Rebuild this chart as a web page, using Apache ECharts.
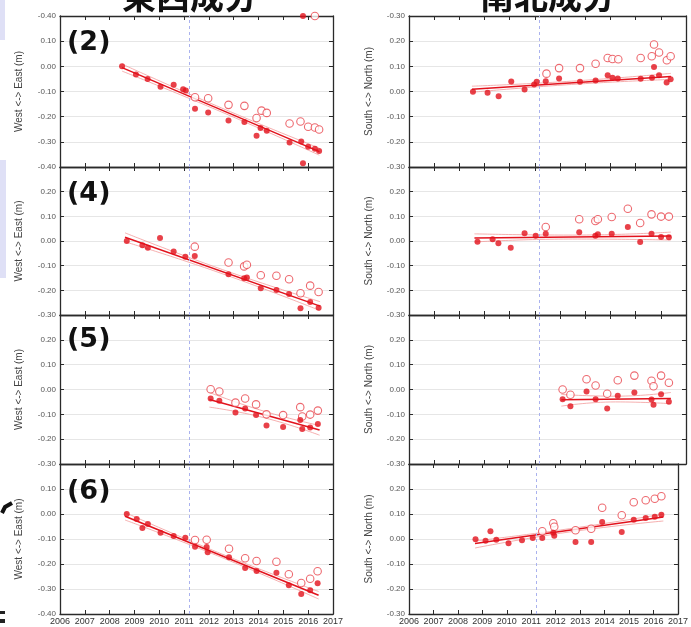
<!DOCTYPE html>
<html><head><meta charset="utf-8">
<script src="https://cdn.jsdelivr.net/npm/echarts@6/dist/echarts.min.js"></script>
<style>html,body{margin:0;padding:0;background:#fff;}#c{width:691px;height:627px;}</style>
</head><body><div id="c"></div>
<script>
// ---------- data ----------
const xMin = 2006, xMax = 2017;
const quakeYear = 2011.19;
const columnTitles = ['東西成分', '南北成分'];
const panelLabels = ['(2)', '(4)', '(5)', '(6)'];
const ewName = 'West <-> East (m)';
const nsName = 'South <-> North (m)';
const ewRanges = [[-0.4, 0.2], [-0.3, 0.3], [-0.3, 0.3], [-0.4, 0.2]];
const nsRanges = [[-0.3, 0.3], [-0.3, 0.3], [-0.3, 0.3], [-0.3, 0.3]];
const topLabelEW = '-0.40';
const topLabelNS = '-0.30';

// (2) East-West
const p2ewFilled = [[2008.5,0.0],[2009.06,-0.032],[2009.53,-0.05],[2010.05,-0.081],[2010.58,-0.073],[2010.96,-0.091],[2011.07,-0.096],[2011.44,-0.169],[2011.97,-0.183],[2012.79,-0.215],[2013.43,-0.221],[2013.92,-0.276],[2014.08,-0.245],[2014.33,-0.256],[2015.25,-0.303],[2015.72,-0.299],[2015.79,-0.385],[2016.0,-0.32],[2016.27,-0.327],[2016.44,-0.336],[2015.79,0.2]];
const p2ewOpen = [[2011.44,-0.123],[2011.97,-0.127],[2012.79,-0.153],[2013.43,-0.157],[2013.92,-0.205],[2014.12,-0.176],[2014.33,-0.185],[2015.25,-0.227],[2015.69,-0.219],[2016.0,-0.24],[2016.27,-0.243],[2016.44,-0.251],[2016.27,0.2]];
const p2ewFit = [[2008.5,-0.005],[2016.45,-0.339]];
const p2ewUpper = [[2008.5,0.009],[2012.5,-0.165],[2016.45,-0.325]];
const p2ewLower = [[2008.5,-0.019],[2012.5,-0.181],[2016.45,-0.353]];
// (2) North-South
const p2nsFilled = [[2008.54,-0.001],[2009.12,-0.005],[2009.56,-0.019],[2010.06,0.04],[2010.59,0.008],[2010.97,0.028],[2011.07,0.039],[2011.43,0.041],[2011.96,0.052],[2012.79,0.039],[2013.41,0.044],[2013.89,0.065],[2014.08,0.055],[2014.29,0.052],[2015.2,0.051],[2015.65,0.055],[2015.73,0.097],[2015.93,0.065],[2016.23,0.036],[2016.39,0.049]];
const p2nsOpen = [[2011.46,0.071],[2011.96,0.093],[2012.79,0.093],[2013.41,0.11],[2013.89,0.133],[2014.08,0.129],[2014.31,0.128],[2015.2,0.133],[2015.64,0.14],[2015.73,0.187],[2015.93,0.155],[2016.24,0.124],[2016.39,0.14]];
const p2nsFit = [[2008.5,0.009],[2016.4,0.06]];
const p2nsUpper = [[2008.5,0.021],[2012.45,0.041],[2016.4,0.072]];
const p2nsLower = [[2008.5,-0.003],[2012.45,0.028],[2016.4,0.048]];
// (4) East-West
const p4ewFilled = [[2008.69,0.0],[2009.32,-0.017],[2009.54,-0.027],[2010.03,0.012],[2010.58,-0.043],[2011.05,-0.064],[2011.43,-0.061],[2012.79,-0.135],[2013.42,-0.151],[2013.53,-0.148],[2014.09,-0.192],[2014.72,-0.199],[2015.23,-0.215],[2015.69,-0.273],[2016.08,-0.247],[2016.42,-0.271]];
const p4ewOpen = [[2011.43,-0.023],[2012.79,-0.087],[2013.42,-0.103],[2013.53,-0.096],[2014.09,-0.139],[2014.72,-0.141],[2015.23,-0.155],[2015.69,-0.212],[2016.08,-0.181],[2016.42,-0.207]];
const p4ewFit = [[2008.62,0.015],[2016.48,-0.264]];
const p4ewUpper = [[2008.62,0.033],[2012.55,-0.116],[2016.48,-0.246]];
const p4ewLower = [[2008.62,-0.003],[2012.55,-0.133],[2016.48,-0.282]];
// (4) North-South
const p4nsFilled = [[2008.72,-0.003],[2009.32,0.007],[2009.55,-0.009],[2010.04,-0.027],[2010.59,0.031],[2011.03,0.021],[2011.43,0.029],[2012.76,0.035],[2013.4,0.021],[2013.5,0.027],[2014.05,0.029],[2014.69,0.057],[2015.18,-0.004],[2015.63,0.029],[2016.01,0.016],[2016.32,0.015]];
const p4nsOpen = [[2011.43,0.057],[2012.76,0.088],[2013.4,0.081],[2013.5,0.088],[2014.05,0.097],[2014.69,0.131],[2015.18,0.073],[2015.63,0.108],[2016.01,0.099],[2016.32,0.099]];
const p4nsFit = [[2008.6,0.012],[2016.4,0.02]];
const p4nsUpper = [[2008.6,0.029],[2012.5,0.024],[2016.4,0.036]];
const p4nsLower = [[2008.6,-0.004],[2012.5,0.008],[2016.4,0.004]];
// (5) East-West
const p5ewFilled = [[2012.07,-0.036],[2012.42,-0.045],[2013.07,-0.093],[2013.46,-0.077],[2013.9,-0.103],[2014.32,-0.145],[2014.99,-0.151],[2015.68,-0.123],[2015.76,-0.159],[2016.08,-0.153],[2016.39,-0.139]];
const p5ewOpen = [[2012.07,0.001],[2012.42,-0.008],[2013.07,-0.053],[2013.46,-0.036],[2013.9,-0.06],[2014.32,-0.1],[2014.99,-0.103],[2015.68,-0.071],[2015.76,-0.109],[2016.08,-0.101],[2016.39,-0.085]];
const p5ewFit = [[2012.02,-0.04],[2016.46,-0.163]];
const p5ewUpper = [[2012.02,-0.012],[2014.24,-0.088],[2016.46,-0.145]];
const p5ewLower = [[2012.02,-0.071],[2014.24,-0.114],[2016.46,-0.184]];
// (5) North-South
const p5nsFilled = [[2012.1,-0.039],[2012.41,-0.067],[2013.05,-0.008],[2013.41,-0.039],[2013.87,-0.077],[2014.29,-0.025],[2014.95,-0.012],[2015.63,-0.04],[2015.71,-0.061],[2016.01,-0.019],[2016.32,-0.049]];
const p5nsOpen = [[2012.1,0.0],[2012.41,-0.021],[2013.05,0.041],[2013.41,0.016],[2013.87,-0.017],[2014.29,0.037],[2014.95,0.056],[2015.63,0.035],[2015.71,0.013],[2016.01,0.056],[2016.32,0.027]];
const p5nsFit = [[2012.05,-0.041],[2016.4,-0.036]];
const p5nsUpper = [[2012.05,-0.02],[2014.2,-0.027],[2016.4,-0.012]];
const p5nsLower = [[2012.05,-0.067],[2014.2,-0.05],[2016.4,-0.057]];
// (6) East-West
const p6ewFilled = [[2008.69,0.0],[2009.09,-0.02],[2009.32,-0.056],[2009.54,-0.04],[2010.05,-0.075],[2010.58,-0.088],[2011.05,-0.095],[2011.44,-0.131],[2011.91,-0.132],[2011.95,-0.153],[2012.81,-0.173],[2013.46,-0.216],[2013.92,-0.228],[2014.72,-0.235],[2015.22,-0.285],[2015.72,-0.32],[2016.08,-0.305],[2016.38,-0.277]];
const p6ewOpen = [[2011.44,-0.104],[2011.91,-0.103],[2012.81,-0.139],[2013.46,-0.177],[2013.92,-0.188],[2014.72,-0.191],[2015.22,-0.241],[2015.72,-0.276],[2016.08,-0.259],[2016.38,-0.229]];
const p6ewFit = [[2008.62,-0.009],[2016.42,-0.325]];
const p6ewUpper = [[2008.62,0.006],[2012.52,-0.16],[2016.42,-0.31]];
const p6ewLower = [[2008.62,-0.024],[2012.52,-0.174],[2016.42,-0.34]];
// (6) North-South
const p6nsFilled = [[2008.72,-0.001],[2009.13,-0.007],[2009.33,0.031],[2009.57,-0.003],[2010.07,-0.017],[2010.62,-0.005],[2011.06,0.004],[2011.45,0.004],[2011.9,0.025],[2011.94,0.013],[2012.81,-0.012],[2013.45,-0.012],[2013.9,0.068],[2014.7,0.028],[2015.19,0.077],[2015.68,0.084],[2016.05,0.089],[2016.32,0.097]];
const p6nsOpen = [[2011.45,0.031],[2011.9,0.063],[2011.94,0.049],[2012.81,0.035],[2013.45,0.041],[2013.9,0.125],[2014.7,0.095],[2015.19,0.147],[2015.68,0.155],[2016.05,0.161],[2016.32,0.171]];
const p6nsFit = [[2008.7,-0.018],[2016.4,0.088]];
const p6nsUpper = [[2008.7,-0.008],[2012.55,0.041],[2016.4,0.1]];
const p6nsLower = [[2008.7,-0.036],[2012.55,0.028],[2016.4,0.072]];

// ---------- layout ----------
const colLeft = [60, 409], colWidth = [273, 277];
const rowTop = [16, 167, 315, 464], rowHeight = [151, 148, 149, 150];
const RED = '#e2121c', RED_OPEN = '#e8434b', BAND = '#f39a9a', QUAKE = '#aab2ee';

const panels = [
  [p2ewFilled, p2ewOpen, p2ewFit, p2ewUpper, p2ewLower],
  [p2nsFilled, p2nsOpen, p2nsFit, p2nsUpper, p2nsLower],
  [p4ewFilled, p4ewOpen, p4ewFit, p4ewUpper, p4ewLower],
  [p4nsFilled, p4nsOpen, p4nsFit, p4nsUpper, p4nsLower],
  [p5ewFilled, p5ewOpen, p5ewFit, p5ewUpper, p5ewLower],
  [p5nsFilled, p5nsOpen, p5nsFit, p5nsUpper, p5nsLower],
  [p6ewFilled, p6ewOpen, p6ewFit, p6ewUpper, p6ewLower],
  [p6nsFilled, p6nsOpen, p6nsFit, p6nsUpper, p6nsLower]
];

function fmt(v){ return Math.abs(v) < 1e-9 ? '0.00' : v.toFixed(2); }

const grid = [], xAxis = [], yAxis = [], series = [];
const axisLineStyle = { show: true, onZero: false, lineStyle: { color: '#2a2a2a', width: 1.3 } };
const tickStyle = { show: true, inside: true, length: 4, lineStyle: { color: '#2a2a2a' } };

panels.forEach((p, i) => {
  const row = Math.floor(i / 2), col = i % 2;
  const range = col === 0 ? ewRanges[row] : nsRanges[row];
  grid.push({ left: colLeft[col], top: rowTop[row], width: colWidth[col], height: rowHeight[row] });
  const isBottom = row === 3;
  xAxis.push({
    gridIndex: i, type: 'value', min: xMin, max: xMax, interval: 1, position: 'bottom',
    axisLine: axisLineStyle, axisTick: tickStyle, splitLine: { show: false },
    axisLabel: { show: isBottom, formatter: v => String(v), fontSize: 9, color: '#333', margin: 3, fontFamily: 'Liberation Sans', showMinLabel: true, showMaxLabel: true }
  });
  xAxis.push({
    gridIndex: i, type: 'value', min: xMin, max: xMax, interval: 1, position: 'top',
    axisLine: axisLineStyle, axisTick: tickStyle, splitLine: { show: false }, axisLabel: { show: false }
  });
  const topText = col === 0 ? topLabelEW : topLabelNS;
  yAxis.push({
    gridIndex: i, type: 'value', min: range[0], max: range[1], interval: 0.1, position: 'left',
    name: col === 0 ? ewName : nsName, nameLocation: 'middle', nameGap: col === 0 ? 36 : 35,
    nameTextStyle: { fontSize: 10, color: '#444', fontFamily: 'Liberation Sans' },
    axisLine: axisLineStyle, axisTick: tickStyle,
    splitLine: { show: true, lineStyle: { color: '#e6e6e6', width: 1 } },
    axisLabel: {
      fontSize: 8, color: '#555', margin: 4, fontFamily: 'Liberation Sans', hideOverlap: false,
      showMaxLabel: row === 0, showMinLabel: true,
      formatter: v => (row === 0 && Math.abs(v - range[1]) < 1e-9) ? topText : fmt(v)
    }
  });
  yAxis.push({
    gridIndex: i, type: 'value', min: range[0], max: range[1], interval: 0.1, position: 'right',
    axisLine: axisLineStyle, axisTick: tickStyle, splitLine: { show: false }, axisLabel: { show: false }
  });
  const xi = 2 * i, yi = 2 * i;
  const lineBase = { type: 'line', xAxisIndex: xi, yAxisIndex: yi, symbol: 'none', silent: true, animation: false };
  series.push(Object.assign({}, lineBase, { data: p[3], smooth: true, lineStyle: { color: BAND, width: 0.8 }, z: 2 }));
  series.push(Object.assign({}, lineBase, { data: p[4], smooth: true, lineStyle: { color: BAND, width: 0.8 }, z: 2 }));
  series.push(Object.assign({}, lineBase, { data: p[2], lineStyle: { color: RED, width: 1.5 }, z: 3,
    markLine: { silent: true, symbol: 'none', label: { show: false },
      lineStyle: { color: QUAKE, type: [3, 3], width: 1 }, data: [{ xAxis: quakeYear }] } }));
  series.push({ type: 'scatter', xAxisIndex: xi, yAxisIndex: yi, data: p[1], symbol: 'circle', symbolSize: 7.5,
    itemStyle: { color: '#fff', borderColor: RED_OPEN, borderWidth: 1.1 }, z: 4, animation: false });
  series.push({ type: 'scatter', xAxisIndex: xi, yAxisIndex: yi, data: p[0], symbol: 'circle', symbolSize: 6,
    itemStyle: { color: RED }, z: 5, animation: false });
});

const graphic = [
  { type: 'rect', shape: { x: 0, y: 0, width: 5, height: 40 }, style: { fill: '#dfe0f6' }, z: 0 },
  { type: 'rect', shape: { x: 0, y: 160, width: 6, height: 118 }, style: { fill: '#dfe0f6' }, z: 0 },
  { type: 'text', x: 190, y: -21, style: { text: columnTitles[0], font: 'bold 34px "Noto Sans CJK JP"', fill: '#111', textAlign: 'center', textVerticalAlign: 'top' }, z: 10 },
  { type: 'text', x: 548, y: -21, style: { text: columnTitles[1], font: 'bold 34px "Noto Sans CJK JP"', fill: '#111', textAlign: 'center', textVerticalAlign: 'top' }, z: 10 },
  { type: 'polyline', shape: { points: [[12, 503], [5, 507], [2, 513]] }, style: { stroke: '#111', lineWidth: 4, fill: null }, z: 10 },
  { type: 'rect', shape: { x: 0, y: 611, width: 5, height: 3 }, style: { fill: '#222' }, z: 10 },
  { type: 'rect', shape: { x: 0, y: 619, width: 5, height: 4 }, style: { fill: '#222' }, z: 10 }
];
const labelTops = [29, 180, 326, 478];
panelLabels.forEach((t, r) => {
  graphic.push({ type: 'text', x: 67, y: labelTops[r], style: { text: t, font: 'bold 27px "DejaVu Sans"', fill: '#111', textAlign: 'left', textVerticalAlign: 'top' }, z: 10 });
});

const chart = echarts.init(document.getElementById('c'), null, { renderer: 'canvas' });
chart.setOption({ animation: false, backgroundColor: '#fff', grid, xAxis, yAxis, series, graphic });
</script></body></html>
